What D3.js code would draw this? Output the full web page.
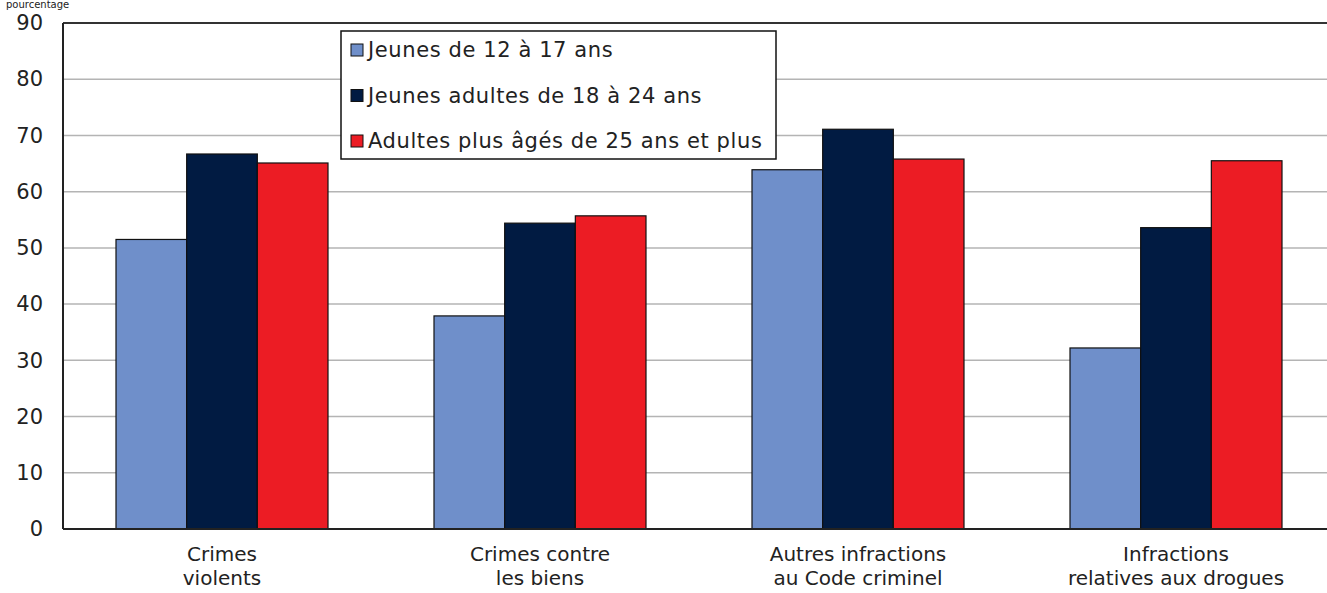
<!DOCTYPE html>
<html><head><meta charset="utf-8">
<script src="https://cdn.jsdelivr.net/npm/d3@7"></script>
<style>body{margin:0;background:#fff;overflow:hidden}svg{display:block}text{font-family:"DejaVu Sans",Verdana,sans-serif;fill:#222}</style>
</head><body>
<svg id="c" width="1327" height="593"></svg>
<script>
const categories = [["Crimes","violents"],["Crimes contre","les biens"],["Autres infractions","au Code criminel"],["Infractions","relatives aux drogues"]];
const seriesNames = ["Jeunes de 12 à 17 ans","Jeunes adultes de 18 à 24 ans","Adultes plus âgés de 25 ans et plus"];
const youth = [51.5, 37.9, 63.9, 32.2];
const youngAdults = [66.7, 54.4, 71.1, 53.6];
const olderAdults = [65.1, 55.7, 65.8, 65.5];
const colors = ["#6f8fca","#011b42","#ec1c24"];
const yTicks = [0,10,20,30,40,50,60,70,80,90];

const svg = d3.select("#c");
const L = 63, T = 23, R = 1335, B = 529;
const FS = 21;
const x0 = d3.scaleBand().domain(d3.range(categories.length)).range([L, R]).paddingInner(0).paddingOuter(0);
const x1 = d3.scaleBand().domain(d3.range(3)).range([0, x0.bandwidth()]).paddingOuter(0.75).paddingInner(0);
const y = d3.scaleLinear().domain([0, 90]).range([B, T]);
const series = [youth, youngAdults, olderAdults];

// unit label at top
svg.append("text").attr("x", 6).attr("y", 8).attr("font-size", 10).text("pourcentage");

// gridlines
svg.append("g").selectAll("line").data(yTicks.filter(d => d > 0 && d < 90)).join("line")
  .attr("x1", L).attr("x2", R).attr("y1", d => y(d)).attr("y2", d => y(d))
  .attr("stroke", "#b4b4b4").attr("stroke-width", 1.5);

// bars
const g = svg.append("g");
series.forEach((s, si) => {
  g.selectAll(null).data(s).join("rect")
    .attr("x", (d, i) => x0(i) + x1(si))
    .attr("y", d => y(d))
    .attr("width", x1.bandwidth())
    .attr("height", d => B - y(d))
    .attr("fill", colors[si]).attr("stroke", "#111").attr("stroke-width", 1.2);
});

// frame
svg.append("line").attr("x1", L).attr("x2", R).attr("y1", T).attr("y2", T).attr("stroke", "#333").attr("stroke-width", 2);
svg.append("line").attr("x1", L).attr("x2", R).attr("y1", B).attr("y2", B).attr("stroke", "#222").attr("stroke-width", 2);
svg.append("line").attr("x1", L).attr("x2", L).attr("y1", T).attr("y2", B).attr("stroke", "#222").attr("stroke-width", 2);

// y axis labels
const yAxis = d3.axisLeft(y).tickValues(yTicks).tickSize(0).tickPadding(20);
const ya = svg.append("g").attr("transform", `translate(${L},0)`).call(yAxis);
ya.select(".domain").remove();
ya.selectAll("text").attr("font-size", FS).attr("font-family", "DejaVu Sans").attr("fill", "#222");

// x labels
const xl = svg.append("g");
categories.forEach((c, i) => {
  const cx = x0(i) + x0.bandwidth()/2;
  const t = xl.append("text").attr("x", cx).attr("text-anchor", "middle").attr("font-size", 20);
  c.forEach((line, j) => t.append("tspan").attr("x", cx).attr("y", 561 + j*24).text(line));
});

// legend
const lg = svg.append("g");
lg.append("rect").attr("x", 341).attr("y", 31).attr("width", 435).attr("height", 128).attr("fill", "#fff").attr("stroke", "#111").attr("stroke-width", 1.5);
seriesNames.forEach((n, i) => {
  const cy = 50 + i*45.5;
  lg.append("rect").attr("x", 351).attr("y", cy - 6).attr("width", 12).attr("height", 12).attr("fill", colors[i]).attr("stroke", "#111").attr("stroke-width", 1);
  lg.append("text").attr("x", 368).attr("y", cy + 7).attr("font-size", FS).attr("letter-spacing", 0.6).text(n);
});
</script>
</body></html>
